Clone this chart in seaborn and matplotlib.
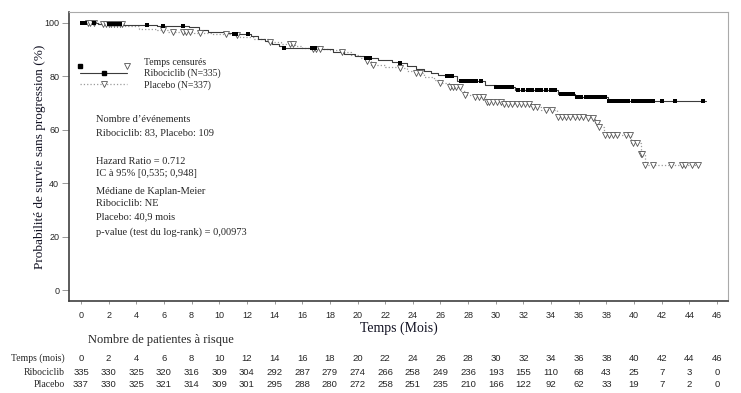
import numpy as np
import pandas as pd
import matplotlib
matplotlib.use("Agg")
import matplotlib.pyplot as plt
import seaborn as sns
from matplotlib.lines import Line2D
from matplotlib.legend_handler import HandlerBase
from matplotlib.transforms import blended_transform_factory

# Kaplan-Meier steps (time in months, survival in %)
ribo_t = [0, 1.2, 3.0, 4.5, 5.5, 7.8, 8.5, 9.2, 10.5, 11.0, 12.3, 12.8, 13.3, 13.8, 14.3, 14.7,
          16.0, 17.3, 18.2, 19.0, 19.8, 20.5, 21.5, 22.5, 23.0, 23.6, 24.2, 24.8, 25.3, 25.8, 26.3,
          27.2, 29.2, 30.0, 31.4, 34.5, 35.7, 38.1]
ribo_s = [100, 99.6, 99.3, 99.1, 98.8, 98.3, 97.3, 96.6, 96.0, 95.6, 95.0, 94.0, 93.0, 92.0, 91.2, 90.7,
          90.5, 90.0, 89.2, 88.3, 87.5, 86.6, 86.0, 85.2, 84.8, 83.8, 82.8, 82.0, 81.0, 80.4, 79.9,
          78.3, 76.7, 75.8, 74.8, 73.3, 72.3, 70.8]
ribo_end = 45.2
ribo_cens = [0.1, 0.2, 0.3, 0.95, 2.0, 2.2, 2.4, 2.6, 2.8, 4.8, 5.9, 7.4, 11.1, 11.2, 12.1, 14.7,
             16.7, 16.8, 16.9, 20.6, 20.8, 20.9, 23.1, 26.5, 26.6, 26.8, 27.5, 27.8, 28.0, 28.3, 28.6,
             28.9, 30.0, 30.2, 30.5, 30.8, 31.0, 31.2, 31.6, 32.0, 32.3, 32.6, 33.0, 33.3, 33.6, 34.0,
             34.3, 34.7, 35.0, 35.3, 35.6, 35.9, 36.2, 36.5, 36.8, 37.1, 37.4, 37.7, 37.9, 38.2, 38.5,
             38.8, 39.0, 39.3, 39.6, 39.9, 40.2, 40.5, 40.8, 41.1, 41.4, 42.0, 42.95, 45.0]

plac_t = [0, 1.3, 3.2, 4.2, 5.5, 6.3, 8.2, 9.5, 11.0, 11.5, 12.5, 13.5, 14.5, 15.5, 16.0, 16.5,
          18.0, 18.8, 19.5, 20.2, 20.6, 21.0, 22.0, 23.0, 23.6, 24.2, 24.8, 25.5, 26.0, 26.6, 27.5,
          27.8, 28.5, 29.3, 30.5, 32.6, 33.3, 34.4, 36.6, 37.2, 37.5, 37.8, 39.8, 40.5, 40.8]
plac_s = [100, 99.4, 98.8, 97.8, 97.1, 96.6, 96.3, 95.9, 95.2, 94.5, 93.8, 92.9, 92.2, 91.4, 90.6, 90.0,
          89.6, 89.2, 88.0, 86.8, 85.7, 84.2, 83.6, 83.0, 82.0, 81.0, 79.8, 78.6, 77.6, 75.8, 74.5,
          73.0, 72.1, 70.5, 69.6, 68.6, 67.3, 64.8, 64.2, 62.3, 61.1, 58.0, 55.1, 50.9, 46.8]
plac_end = 44.6
plac_cens = [0.5, 0.65, 0.95, 1.6, 1.8, 2.0, 2.2, 2.4, 2.6, 2.8, 3.0, 5.9, 6.65, 7.4, 7.6, 7.9, 8.6,
             10.5, 11.3, 13.7, 15.1, 15.3, 16.8, 17.0, 17.3, 18.9, 20.7, 21.1, 23.1, 24.2, 24.5, 26.0,
             26.7, 26.9, 27.1, 27.4, 27.8, 28.5, 28.8, 29.1, 29.4, 29.5, 29.8, 30.1, 30.4, 30.6, 30.9,
             31.2, 31.5, 31.8, 32.1, 32.4, 32.7, 33.0, 33.6, 34.1, 34.5, 34.8, 35.1, 35.4, 35.7, 36.0,
             36.3, 36.7, 37.0, 37.3, 37.5, 37.9, 38.2, 38.5, 38.8, 39.4, 39.7, 39.9, 40.2, 40.5, 40.6,
             40.8, 41.4, 42.7, 43.5, 43.7, 44.2, 44.6]

# number at risk
risk_times = list(range(0, 47, 2))
risk_ribo = [335, 330, 325, 320, 316, 309, 304, 292, 287, 279, 274, 266, 258, 249, 236, 193, 155,
             110, 68, 43, 25, 7, 3, 0]
risk_plac = [337, 330, 325, 321, 314, 309, 301, 295, 288, 280, 272, 258, 251, 235, 210, 166, 122,
             92, 62, 33, 19, 7, 2, 0]

stats_lines = [
    ("Nombre d\u2019événements", 0.627),
    ("Ribociclib: 83, Placebo: 109", 0.582),
    ("Hazard Ratio = 0.712", 0.482),
    ("IC à 95% [0,535; 0,948]", 0.441),
    ("Médiane de Kaplan-Meier", 0.379),
    ("Ribociclib: NE", 0.337),
    ("Placebo: 40,9 mois", 0.292),
    ("p-value (test du log-rank) = 0,00973", 0.237),
]

sns.set_theme(style="white")
plt.rcParams['font.family'] = ['Liberation Serif', 'DejaVu Serif']
SANS = ['Liberation Sans', 'DejaVu Sans']

RIBO_LINE = '#3c3c3c'
PLAC_LINE = '#9a9a9a'
TRI_EDGE = '#555555'


def km_frame(t, s, end):
    return pd.DataFrame({'time': list(t) + [end], 'surv': list(s) + [s[-1]]})


def censor_frame(t, s, cens):
    idx = np.searchsorted(t, cens, side='right') - 1
    return pd.DataFrame({'time': cens, 'surv': np.array(s)[idx]})


fig = plt.figure(figsize=(7.41, 3.93), dpi=100)
ax = fig.add_axes([0.0931, 0.234, 0.8894, 0.7356])

sns.lineplot(data=km_frame(plac_t, plac_s, plac_end), x='time', y='surv', drawstyle='steps-post',
             color=PLAC_LINE, linestyle=':', linewidth=0.9, estimator=None, sort=False, ax=ax)
sns.lineplot(data=km_frame(ribo_t, ribo_s, ribo_end), x='time', y='surv', drawstyle='steps-post',
             color=RIBO_LINE, linewidth=0.8, estimator=None, sort=False, ax=ax)
sns.scatterplot(data=censor_frame(plac_t, plac_s, plac_cens), x='time', y='surv', marker='v', s=18,
                facecolor='white', edgecolor=TRI_EDGE, linewidth=0.6, zorder=3, ax=ax)
sns.scatterplot(data=censor_frame(ribo_t, ribo_s, ribo_cens), x='time', y='surv', marker='s', s=10,
                color='black', edgecolor='black', linewidth=0, zorder=4, ax=ax)

ax.set_xlim(-0.87, 46.8)
ax.set_ylim(-4.1, 104)
ax.set_xticks(risk_times)
ax.set_yticks(range(0, 101, 20))
for lab in ax.get_xticklabels() + ax.get_yticklabels():
    lab.set_family(SANS)
ax.tick_params(axis='x', length=2.5, width=0.6, color='#888888', pad=5, labelsize=6.5,
               bottom=True)
ax.tick_params(axis='y', length=5, width=0.6, color='#888888', pad=2, labelsize=6.5, left=True)
for side in ['left', 'bottom']:
    ax.spines[side].set_color('#404040')
    ax.spines[side].set_linewidth(1.2)
for side in ['top', 'right']:
    ax.spines[side].set_color('#aaaaaa')
    ax.spines[side].set_linewidth(0.8)

ax.set_xlabel("Temps (Mois)", fontsize=10, labelpad=1, color='#111122')
ax.set_ylabel("Probabilité de survie sans progression (%)", fontsize=9.5, labelpad=-1,
              color='#111122')


class CensorHandler(HandlerBase):
    def create_artists(self, legend, orig_handle, xdescent, ydescent, width, height,
                       fontsize, trans):
        y = height / 2 - ydescent - 3
        sq = Line2D([-xdescent], [y], marker='s', markersize=3, color='black', linestyle='none')
        tri = Line2D([width - xdescent], [y], marker='v', markersize=4.2, markerfacecolor='white',
                     markeredgecolor=TRI_EDGE, markeredgewidth=0.6, linestyle='none')
        sq.set_transform(trans)
        tri.set_transform(trans)
        return [sq, tri]


h_cens = Line2D([], [])
h_ribo = Line2D([], [], color=RIBO_LINE, linewidth=0.8, marker='s', markersize=3,
                markerfacecolor='black', markeredgecolor='black')
h_plac = Line2D([], [], color=PLAC_LINE, linewidth=0.9, linestyle=':', marker='v',
                markersize=4.2, markerfacecolor='white', markeredgecolor=TRI_EDGE,
                markeredgewidth=0.6)
ax.legend([h_cens, h_ribo, h_plac],
          ["Temps censurés", "Ribociclib (N=335)", "Placebo (N=337)"],
          handler_map={h_cens: CensorHandler()}, numpoints=1,
          loc='upper left', bbox_to_anchor=(0.017, 0.841), frameon=False, fontsize=7,
          handlelength=4.8, handletextpad=1.8, labelspacing=0.2, borderaxespad=0,
          borderpad=0)

for txt, yy in stats_lines:
    ax.text(0.041, yy, txt, transform=ax.transAxes, fontsize=7.5, va='center', ha='left')

# number-at-risk table
tr = blended_transform_factory(ax.transData, fig.transFigure)
fig.text(0.119, 0.135, "Nombre de patientes à risque", fontsize=9, va='center', ha='left')
rows = [("Temps (mois)", risk_times, 0.089), ("Ribociclib", risk_ribo, 0.0534),
        ("Placebo", risk_plac, 0.0229)]
for name, vals, yy in rows:
    fig.text(0.0877, yy, name, fontsize=7, va='center', ha='right')
    for t, v in zip(risk_times, vals):
        ax.text(t, yy, str(v), transform=tr, fontsize=6.8, va='center', ha='center',
                family=SANS, clip_on=False)

fig.savefig("out.png", dpi=100)
